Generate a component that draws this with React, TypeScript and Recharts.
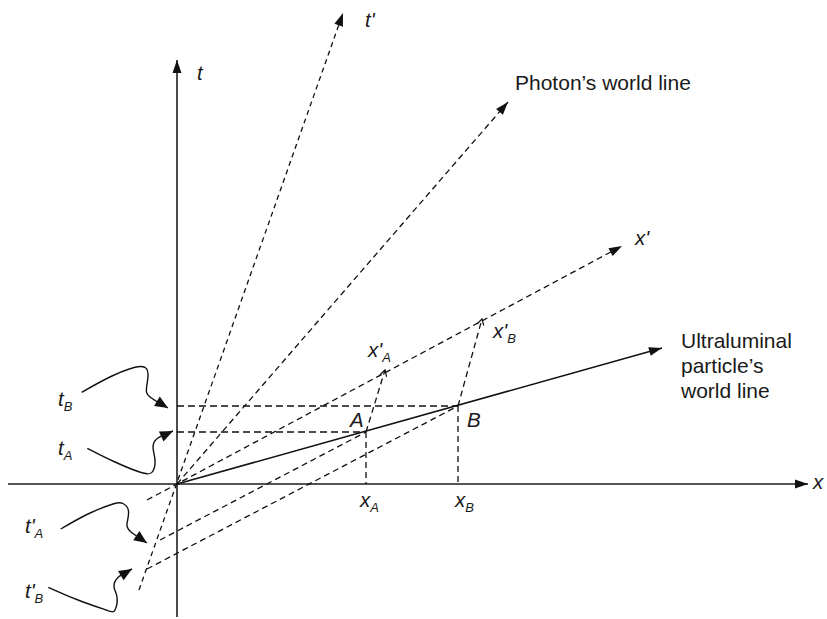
import React from 'react';
import { ComposedChart, Line, XAxis, YAxis, ReferenceDot } from 'recharts';

// diagram units: 1 unit = 100px, origin where the t and x axes cross
type Pt = { x: number; y: number };

const xAxisLine: Pt[] = [{ x: -1.69, y: 0 }, { x: 6.31, y: 0 }];
const tAxisLine: Pt[] = [{ x: 0, y: -1.33 }, { x: 0, y: 4.24 }];
const tPrimeAxis: Pt[] = [{ x: -0.38, y: -1.06 }, { x: 1.66, y: 4.71 }];
const xPrimeAxis: Pt[] = [{ x: -0.3, y: -0.16 }, { x: 4.45, y: 2.38 }];
const photonLine: Pt[] = [{ x: 0, y: 0 }, { x: 3.31, y: 3.82 }];
const particleLine: Pt[] = [{ x: 0, y: 0 }, { x: 4.85, y: 1.36 }];

const eventA: Pt = { x: 1.89, y: 0.52 };
const eventB: Pt = { x: 2.81, y: 0.78 };

// projections of A and B on both frames
const tALine: Pt[] = [{ x: 0, y: 0.52 }, eventA];
const tBLine: Pt[] = [{ x: 0, y: 0.78 }, eventB];
const xALine: Pt[] = [eventA, { x: 1.89, y: 0 }];
const xBLine: Pt[] = [eventB, { x: 2.81, y: 0 }];
const tPrimeALine: Pt[] = [{ x: -0.17, y: -0.56 }, eventA];
const tPrimeBLine: Pt[] = [{ x: -0.3, y: -0.85 }, eventB];
const xPrimeALine: Pt[] = [eventA, { x: 2.08, y: 1.14 }];
const xPrimeBLine: Pt[] = [eventB, { x: 3.05, y: 1.65 }];

// hand drawn pointers from the labels to the axis
const curveTB: Pt[] = [
  { x: -0.953, y: 0.917 }, { x: -0.65, y: 1.08 }, { x: -0.37, y: 1.175 }, { x: -0.29, y: 1.1 },
  { x: -0.305, y: 0.96 }, { x: -0.27, y: 0.87 }, { x: -0.09, y: 0.76 },
];
const curveTA: Pt[] = [
  { x: -0.897, y: 0.357 }, { x: -0.62, y: 0.22 }, { x: -0.34, y: 0.11 }, { x: -0.24, y: 0.13 },
  { x: -0.22, y: 0.24 }, { x: -0.24, y: 0.37 }, { x: -0.19, y: 0.46 }, { x: -0.04, y: 0.53 },
];
const curveTPA: Pt[] = [
  { x: -1.163, y: -0.45 }, { x: -0.89, y: -0.3 }, { x: -0.64, y: -0.2 }, { x: -0.54, y: -0.195 },
  { x: -0.485, y: -0.27 }, { x: -0.5, y: -0.4 }, { x: -0.46, y: -0.48 }, { x: -0.3, y: -0.59 },
];
const curveTPB: Pt[] = [
  { x: -1.287, y: -1.033 }, { x: -0.99, y: -1.16 }, { x: -0.71, y: -1.26 }, { x: -0.62, y: -1.26 },
  { x: -0.6, y: -1.13 }, { x: -0.63, y: -1.03 }, { x: -0.585, y: -0.93 }, { x: -0.45, y: -0.85 },
];

type Lbl = { x: number; y: number; text: string; sub?: string };

const symbolLabels: Lbl[] = [
  { x: 0.2, y: 4.04, text: 't' },
  { x: 1.88, y: 4.57, text: "t'" },
  { x: 4.58, y: 2.39, text: "x'" },
  { x: 6.36, y: -0.05, text: 'x' },
  { x: 1.83, y: -0.23, text: 'x', sub: 'A' },
  { x: 2.78, y: -0.23, text: 'x', sub: 'B' },
  { x: 1.73, y: 0.57, text: 'A' },
  { x: 2.9, y: 0.57, text: 'B' },
  { x: 1.91, y: 1.27, text: "x'", sub: 'A' },
  { x: 3.16, y: 1.46, text: "x'", sub: 'B' },
  { x: -1.19, y: 0.78, text: 't', sub: 'B' },
  { x: -1.19, y: 0.29, text: 't', sub: 'A' },
  { x: -1.52, y: -0.49, text: "t'", sub: 'A' },
  { x: -1.52, y: -1.14, text: "t'", sub: 'B' },
];

const captionLabels: Lbl[] = [
  { x: 3.38, y: 3.94, text: 'Photon\u2019s world line' },
  { x: 5.04, y: 1.36, text: 'Ultraluminal' },
  { x: 5.04, y: 1.11, text: 'particle\u2019s' },
  { x: 5.04, y: 0.86, text: 'world line' },
];

const FONT = '"Liberation Sans", Arial, Helvetica, sans-serif';
const INK = '#111';

// both axes use 100px per unit, so the data direction is the screen direction
const arrowDot = (pts: Pt[], kind: 'solid' | 'open' | 'none', len = 13, wid = 10) => (props: any) => {
  const { cx, cy, index } = props;
  if (kind === 'none' || index !== pts.length - 1 || cx == null) return <g key={`d-${index}`} />;
  const a = pts[pts.length - 1];
  const b = pts[pts.length - 2];
  const deg = (Math.atan2(-(a.y - b.y), a.x - b.x) * 180) / Math.PI;
  const tf = `translate(${cx},${cy}) rotate(${deg})`;
  if (kind === 'open') {
    return (
      <polyline key={`d-${index}`} points="-6,-3.5 0,0 -6,3.5" transform={tf}
        fill="none" stroke={INK} strokeWidth={1.2} />
    );
  }
  return (
    <polygon key={`d-${index}`} points={`0,0 ${-len},${-wid / 2} ${-len},${wid / 2}`}
      transform={tf} fill={INK} stroke="none" />
  );
};

const renderLabel = (cx: number, cy: number, l: Lbl, italic: boolean) => (
  <text x={cx} y={cy} fontFamily={FONT} fontStyle={italic ? 'italic' : 'normal'}
    fontSize={italic ? 20.5 : 21} fill="#1a1a1a" textAnchor="start">
    {l.text}
    {l.sub ? <tspan dy={5} fontSize={13}>{l.sub}</tspan> : null}
  </text>
);

type Seg = { data: Pt[]; dash?: string; width?: number; color?: string; head?: 'solid' | 'open' | 'none'; curve?: boolean };

const segments: Seg[] = [
  { data: xAxisLine, width: 2, color: '#555', head: 'solid' },
  { data: tAxisLine, width: 1.5, head: 'solid' },
  { data: tPrimeAxis, dash: '5 4', head: 'solid' },
  { data: photonLine, dash: '6 4', head: 'solid' },
  { data: xPrimeAxis, dash: '6 4', head: 'solid' },
  { data: particleLine, width: 1.5, head: 'solid' },
  { data: tALine, dash: '7 4', head: 'none' },
  { data: tBLine, dash: '7 4', head: 'none' },
  { data: xALine, dash: '6 4', head: 'none' },
  { data: xBLine, dash: '6 4', head: 'none' },
  { data: tPrimeALine, dash: '6 4', head: 'none' },
  { data: tPrimeBLine, dash: '6 4', head: 'none' },
  { data: xPrimeALine, dash: '6 4', head: 'open' },
  { data: xPrimeBLine, dash: '6 4', head: 'open' },
  { data: curveTB, width: 1.4, head: 'solid', curve: true },
  { data: curveTA, width: 1.4, head: 'solid', curve: true },
  { data: curveTPA, width: 1.4, head: 'solid', curve: true },
  { data: curveTPB, width: 1.4, head: 'solid', curve: true },
];

const App: React.FC = () => {
  return (
    <div style={{ position: 'absolute', left: 0, top: 0, width: 827, height: 619, background: '#fff' }}>
      <ComposedChart width={827} height={619} margin={{ top: 0, right: 0, bottom: 0, left: 0 }}>
        <XAxis type="number" dataKey="x" domain={[-1.77, 6.5]} allowDataOverflow hide />
        <YAxis type="number" dataKey="y" domain={[-1.35, 4.84]} allowDataOverflow hide />
        {segments.map((s, i) => (
          <Line
            key={i}
            data={s.data}
            dataKey="y"
            type={s.curve ? 'natural' : 'linear'}
            stroke={s.color || INK}
            strokeWidth={s.width || 1.3}
            strokeDasharray={s.dash}
            dot={arrowDot(s.data, s.head || 'none', 13, s.curve ? 11 : 9)}
            activeDot={false}
            isAnimationActive={false}
            legendType="none"
          />
        ))}
        {symbolLabels.map((l, i) => (
          <ReferenceDot key={`s${i}`} x={l.x} y={l.y} r={1} ifOverflow="visible"
            shape={(p: any) => renderLabel(p.cx, p.cy, l, true)} />
        ))}
        {captionLabels.map((l, i) => (
          <ReferenceDot key={`c${i}`} x={l.x} y={l.y} r={1} ifOverflow="visible"
            shape={(p: any) => renderLabel(p.cx, p.cy, l, false)} />
        ))}
      </ComposedChart>
    </div>
  );
};

export default App;
